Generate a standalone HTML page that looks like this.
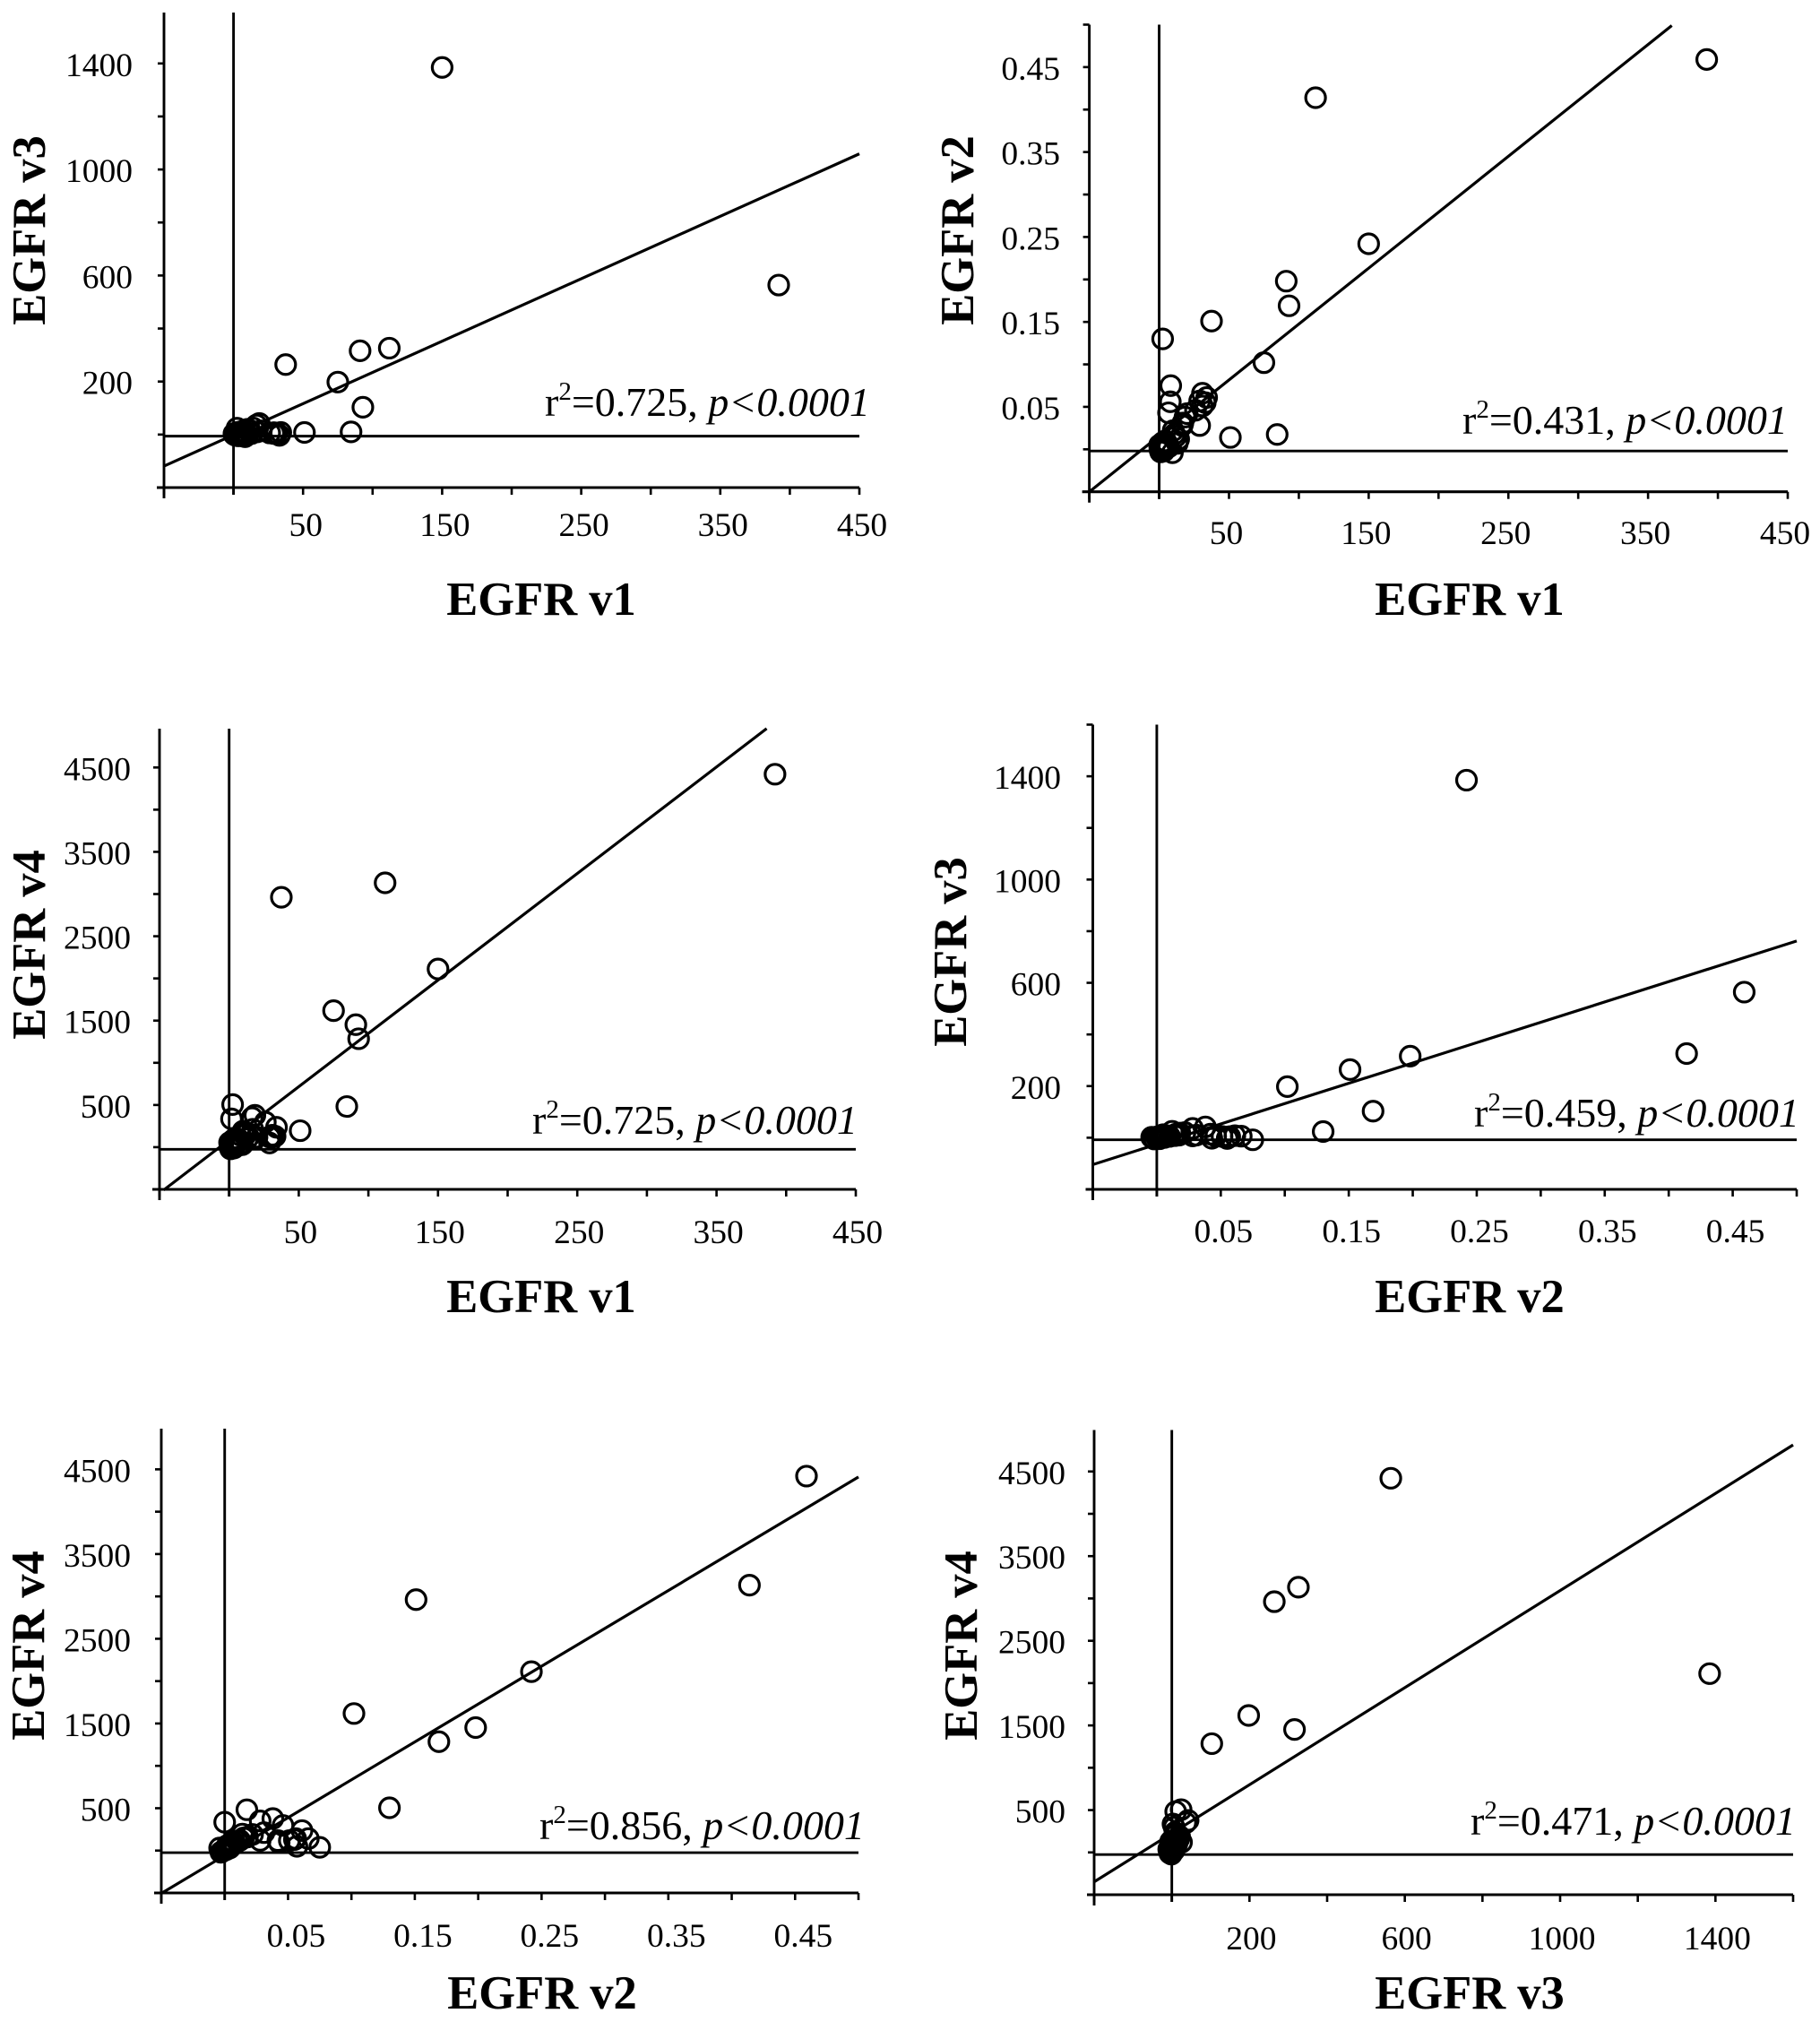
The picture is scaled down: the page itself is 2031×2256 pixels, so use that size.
<!DOCTYPE html>
<html lang="en">
<head>
<meta charset="utf-8">
<title>EGFR variant correlation scatter plots</title>
<style>
html,body{margin:0;padding:0;background:#fff;}
svg{display:block;}
text{font-family:"Liberation Serif",serif;fill:#000;}
</style>
</head>
<body>
<svg id="figure" xmlns="http://www.w3.org/2000/svg" width="2031" height="2256" viewBox="0 0 2031 2256"></svg>
<script>
// Expression values per sample
const v1 = [392,150,112,91,93,37.5,75,84.5,2.5,51,8.3,8,6.7,33,18.5,16.5,26,1.7,34,31,29,31,29,20,17,13,9.5,0.5,1,1.5,2,3,4,5,6,7,2.5,0.3,3.5,1,4.5,12,10,14,11,6];
const v2 = [0.459,0.242,0.414,0.198,0.169,0.151,0.102,0.0175,0.130,0.014,0.075,0.056,0.043,0.055,0.038,0.028,0.046,0.000,0.061,0.066,0.057,0.051,0.028,0.042,0.031,0.007,-0.004,0.000,0.001,0.002,0.003,0.001,0.004,0.002,0.006,0.003,0.008,0.005,-0.002,-0.003,0.010,0.015,0.022,0.012,0.018,0.005];
const v3 = [564,1385,326,316,103,264,198,10,24,8,-8,3,-2,-3,42,36,6,3,8,6,4,5,7,14,10,4,2,0,1,-3,2,-2,4,-4,1,6,8,3,-5,-1,5,14,20,25,18,12];
const v4 = [4420,2112,3133,1452,1285,2962,1618,482,505,195,38,141,94,130,378,350,297,335,236,141,50,118,120,118,212,100,30,5,10,20,40,15,30,60,70,25,80,55,-10,-20,110,150,190,120,160,90];

// Regression line endpoints (data units) for each panel
const lineXEnds = [[-50,450],[-50,367],[-47,386],[-0.05,0.5],[-0.05,0.5],[-200,1600]];
const lineYEnds = [[-119,1059],[-0.05,0.499],[-508,4961],[-104,762],[-505,4410],[-348,4814]];

// Tick labels
const v1TickLabels = ["50","150","250","350","450"];
const v1TickValues = [50,150,250,350,450];
const v2TickLabels = ["0.05","0.15","0.25","0.35","0.45"];
const v2TickValues = [0.05,0.15,0.25,0.35,0.45];
const v3TickLabels = ["200","600","1000","1400"];
const v3TickValues = [200,600,1000,1400];
const v4TickLabels = ["500","1500","2500","3500","4500"];
const v4TickValues = [500,1500,2500,3500,4500];

// Printed statistics
const rSquared = ["0.725","0.431","0.725","0.459","0.856","0.471"];

const variants = {
  v1:{name:"EGFR v1",values:v1,ticks:v1TickValues,labels:v1TickLabels,minor:50},
  v2:{name:"EGFR v2",values:v2,ticks:v2TickValues,labels:v2TickLabels,minor:0.05},
  v3:{name:"EGFR v3",values:v3,ticks:v3TickValues,labels:v3TickLabels,minor:200},
  v4:{name:"EGFR v4",values:v4,ticks:v4TickValues,labels:v4TickLabels,minor:500}
};

const panels = [
  {x:"v1",y:"v3",L:183,R:959,T:14,B:544,xd:[-50,450],yd:[-200,1592],ref:-6,yLabR:148,xLabY:598,xLabDx:3,yTitleX:50,yTitleY:257,xTitleX:604,xTitleY:686,noteX:608,noteY:464},
  {x:"v1",y:"v2",L:1215.6,R:1995,T:27.5,B:548.7,xd:[-50,450],yd:[-0.05,0.5],ref:-0.002,yLabR:1183,xLabY:607,xLabDx:-3,yTitleX:1086,yTitleY:257,xTitleX:1640,xTitleY:686,noteX:1632,noteY:484},
  {x:"v1",y:"v4",L:178,R:955,T:813,B:1327,xd:[-50,450],yd:[-500,4960],ref:-25,yLabR:146,xLabY:1387,xLabDx:2,yTitleX:50,yTitleY:1054,xTitleX:604,xTitleY:1464,noteX:594,noteY:1265},
  {x:"v2",y:"v3",L:1219.5,R:2005,T:808.5,B:1327,xd:[-0.05,0.5],yd:[-200,1600],ref:-8,yLabR:1184,xLabY:1386,xLabDx:3,yTitleX:1078,yTitleY:1062,xTitleX:1640,xTitleY:1464,noteX:1645,noteY:1257},
  {x:"v2",y:"v4",L:180,R:958,T:1594,B:2112,xd:[-0.05,0.5],yd:[-500,4980],ref:-25,yLabR:146,xLabY:2172,xLabDx:9,yTitleX:49,yTitleY:1836,xTitleX:605,xTitleY:2241,noteX:602,noteY:2052},
  {x:"v3",y:"v4",L:1221,R:2001,T:1595.5,B:2114,xd:[-200,1600],yd:[-500,4990],ref:-25,yLabR:1189,xLabY:2175,xLabDx:2,yTitleX:1090,yTitleY:1836,xTitleX:1640,xTitleY:2241,noteX:1641,noteY:2047}
];

const NS = "http://www.w3.org/2000/svg";
const fig = document.getElementById("figure");

function make(parent, tag, attrs){
  const el = document.createElementNS(NS, tag);
  for (const k in attrs) el.setAttribute(k, attrs[k]);
  parent.appendChild(el);
  return el;
}
function axisLine(parent, x1, y1, x2, y2, w){
  return make(parent, "line", {x1:x1, y1:y1, x2:x2, y2:y2, stroke:"#000", "stroke-width":w});
}

panels.forEach(function(p, i){
  const xv = variants[p.x], yv = variants[p.y];
  const sx = function(v){ return p.L + (v - p.xd[0]) / (p.xd[1] - p.xd[0]) * (p.R - p.L); };
  const sy = function(v){ return p.B - (v - p.yd[0]) / (p.yd[1] - p.yd[0]) * (p.B - p.T); };

  const g = make(fig, "g", {});
  
  

  // axes
  const yAxis = axisLine(g, p.L, p.T, p.L, p.B + 12, 2.9);
  
  
  const xAxis = axisLine(g, p.L - 8, p.B, p.R, p.B, 3.1);
  
  

  // minor ticks, x
  for (let k = Math.ceil(p.xd[0] / xv.minor); k * xv.minor <= p.xd[1] + 1e-9; k++){
    const px = sx(k * xv.minor);
    const t = axisLine(g, px, p.B, px, p.B + 8, 2.6);
    
    
  }
  // minor ticks, y
  for (let k = Math.ceil(p.yd[0] / yv.minor); k * yv.minor <= p.yd[1] + 1e-9; k++){
    const py = sy(k * yv.minor);
    const t = axisLine(g, p.L - 7, py, p.L, py, 2.6);
    
    
  }

  // tick labels
  xv.ticks.forEach(function(val, n){
    const t = make(g, "text", {x:sx(val) + p.xLabDx, y:p.xLabY, "font-size":37.5, "text-anchor":"middle"});
    t.textContent = xv.labels[n];
    
    
  });
  yv.ticks.forEach(function(val, n){
    const t = make(g, "text", {x:p.yLabR, y:sy(val) + 14, "font-size":37.5, "text-anchor":"end"});
    t.textContent = yv.labels[n];
    
    
  });

  // reference lines at zero
  const vRef = axisLine(g, sx(0), p.T, sx(0), p.B + 8, 2.9);
  
  
  const hRef = axisLine(g, p.L, sy(p.ref), p.R, sy(p.ref), 2.9);
  
  

  // regression line
  const reg = axisLine(g, sx(lineXEnds[i][0]), sy(lineYEnds[i][0]), sx(lineXEnds[i][1]), sy(lineYEnds[i][1]), 3.2);
  
  

  // points
  xv.values.forEach(function(val, n){
    const c = make(g, "circle", {cx:sx(val), cy:sy(yv.values[n]), r:11, fill:"none", stroke:"#000", "stroke-width":3.2});
    
    
  });

  // statistic annotation
  const note = make(g, "text", {x:p.noteX, y:p.noteY, "font-size":46});
  
  
  const s1 = make(note, "tspan", {}); s1.textContent = "r";
  const s2 = make(note, "tspan", {dy:-18, "font-size":29}); s2.textContent = "2";
  const s3 = make(note, "tspan", {dy:18}); s3.textContent = "=" + rSquared[i] + ", ";
  const s4 = make(note, "tspan", {"font-style":"italic"}); s4.textContent = "p<0.0001";

  // axis titles
  const xTitle = make(g, "text", {x:p.xTitleX, y:p.xTitleY, "font-size":52.5, "font-weight":"bold", "text-anchor":"middle"});
  xTitle.textContent = xv.name;
  
  
  const yTitle = make(g, "text", {transform:"translate(" + p.yTitleX + "," + p.yTitleY + ") rotate(-90)", "font-size":52.5, "font-weight":"bold", "text-anchor":"middle"});
  yTitle.textContent = yv.name;
  
  
});
</script>
</body>
</html>
